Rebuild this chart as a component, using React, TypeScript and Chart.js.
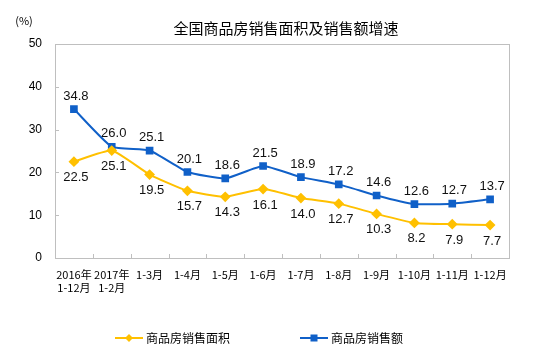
import React, { useEffect, useRef } from "react";
import { Chart, registerables } from "chart.js";

Chart.register(...registerables);

const categories: (string | string[])[] = [
  ["2016年", "1-12月"],
  ["2017年", "1-2月"],
  "1-3月",
  "1-4月",
  "1-5月",
  "1-6月",
  "1-7月",
  "1-8月",
  "1-9月",
  "1-10月",
  "1-11月",
  "1-12月",
];
const areaGrowth = [22.5, 25.1, 19.5, 15.7, 14.3, 16.1, 14.0, 12.7, 10.3, 8.2, 7.9, 7.7];
const salesGrowth = [34.8, 26.0, 25.1, 20.1, 18.6, 21.5, 18.9, 17.2, 14.6, 12.6, 12.7, 13.7];
const seriesNames = ["商品房销售面积", "商品房销售额"];
const titleText = "全国商品房销售面积及销售额增速";
const unitText = "(%)";

const YELLOW = "#FFC000";
const BLUE = "#1060C8";
const CJK = '"Noto Sans CJK SC", "Liberation Sans", sans-serif';
const NUM = '"Liberation Sans", Arial, sans-serif';

const decorPlugin = {
  id: "decor",
  afterDatasetsDraw(chart: any) {
    const { ctx, chartArea } = chart;
    const { left, right, top, bottom } = chartArea;
    ctx.save();
    // border box
    ctx.strokeStyle = "#BFBFBF";
    ctx.lineWidth = 1;
    ctx.strokeRect(Math.round(left) + 0.5, Math.round(top) + 0.5, Math.round(right - left), Math.round(bottom - top));
    // y ticks (inward)
    const ys = chart.scales.y;
    ctx.beginPath();
    for (let v = 10; v < 50; v += 10) {
      const y = Math.round(ys.getPixelForValue(v)) + 0.5;
      ctx.moveTo(left, y);
      ctx.lineTo(left + 4, y);
    }
    // x ticks (inward) at category boundaries
    const xs = chart.scales.x;
    const n = categories.length;
    const step = (right - left) / n;
    for (let i = 1; i < n; i++) {
      const x = Math.round(left + step * i) + 0.5;
      ctx.moveTo(x, bottom);
      ctx.lineTo(x, bottom - 4);
    }
    ctx.stroke();

    // data labels
    ctx.fillStyle = "#111";
    ctx.font = "13px " + NUM;
    ctx.textAlign = "center";
    ctx.textBaseline = "middle";
    const m0 = chart.getDatasetMeta(0);
    const m1 = chart.getDatasetMeta(1);
    m0.data.forEach((p: any, i: number) => {
      ctx.fillText(areaGrowth[i].toFixed(1), p.x + 2, p.y + 16);
    });
    m1.data.forEach((p: any, i: number) => {
      ctx.fillText(salesGrowth[i].toFixed(1), p.x + 2, p.y - 13);
    });

    // title
    ctx.font = "15px " + CJK;
    ctx.fillStyle = "#000";
    ctx.fillText(titleText, 286, 28);
    // unit
    ctx.font = "11px " + CJK;
    ctx.fillText(unitText, 24, 21);

    // legend
    const ly = 338;
    const items = [
      { x: 115, color: YELLOW, style: "diamond", label: seriesNames[0] },
      { x: 300, color: BLUE, style: "square", label: seriesNames[1] },
    ];
    items.forEach((it) => {
      ctx.strokeStyle = it.color;
      ctx.lineWidth = 2;
      ctx.beginPath();
      ctx.moveTo(it.x, ly);
      ctx.lineTo(it.x + 28, ly);
      ctx.stroke();
      ctx.fillStyle = it.color;
      const cx = it.x + 14;
      if (it.style === "diamond") {
        ctx.beginPath();
        ctx.moveTo(cx, ly - 4);
        ctx.lineTo(cx + 4, ly);
        ctx.lineTo(cx, ly + 4);
        ctx.lineTo(cx - 4, ly);
        ctx.closePath();
        ctx.fill();
      } else {
        ctx.fillRect(cx - 3.5, ly - 3.5, 7, 7);
      }
      ctx.fillStyle = "#000";
      ctx.font = "12px " + CJK;
      ctx.textAlign = "left";
      ctx.fillText(it.label, it.x + 31, ly);
      ctx.textAlign = "center";
    });
    ctx.restore();
  },
};

export default function App() {
  const ref = useRef<HTMLCanvasElement | null>(null);
  useEffect(() => {
    document.body.style.margin = "0";
    const chart = new Chart(ref.current!, {
      type: "line",
      data: {
        labels: categories as any,
        datasets: [
          {
            label: seriesNames[0],
            data: areaGrowth,
            borderColor: YELLOW,
            backgroundColor: YELLOW,
            borderWidth: 2,
            pointStyle: "rectRot",
            pointRadius: 4,
            pointHoverRadius: 4,
            tension: 0.15,
          },
          {
            label: seriesNames[1],
            data: salesGrowth,
            borderColor: BLUE,
            backgroundColor: BLUE,
            borderWidth: 2,
            pointStyle: "rect",
            pointRadius: 4,
            pointHoverRadius: 4,
            tension: 0.15,
          },
        ],
      },
      options: {
        responsive: false,
        animation: false,
        layout: { padding: { top: 44, right: 41, left: 0, bottom: 0 } },
        plugins: {
          legend: { display: false },
          title: { display: false },
          tooltip: { enabled: false },
        },
        scales: {
          x: {
            offset: true,
            grid: { display: false, drawTicks: false },
            border: { display: false },
            ticks: {
              padding: 10,
              color: "#000",
              font: { size: 11, family: CJK },
              maxRotation: 0,
              autoSkip: false,
            },
            afterFit(scale: any) {
              scale.height = 94;
            },
          },
          y: {
            min: 0,
            max: 50,
            grid: { display: false, drawTicks: false },
            border: { display: false },
            ticks: {
              stepSize: 10,
              padding: 13,
              color: "#000",
              font: { size: 12, family: NUM },
            },
            afterFit(scale: any) {
              scale.width = 55;
            },
          },
        },
      },
      plugins: [decorPlugin],
    });
    return () => chart.destroy();
  }, []);
  return <canvas ref={ref} width={550} height={352} style={{ display: "block" }} />;
}
